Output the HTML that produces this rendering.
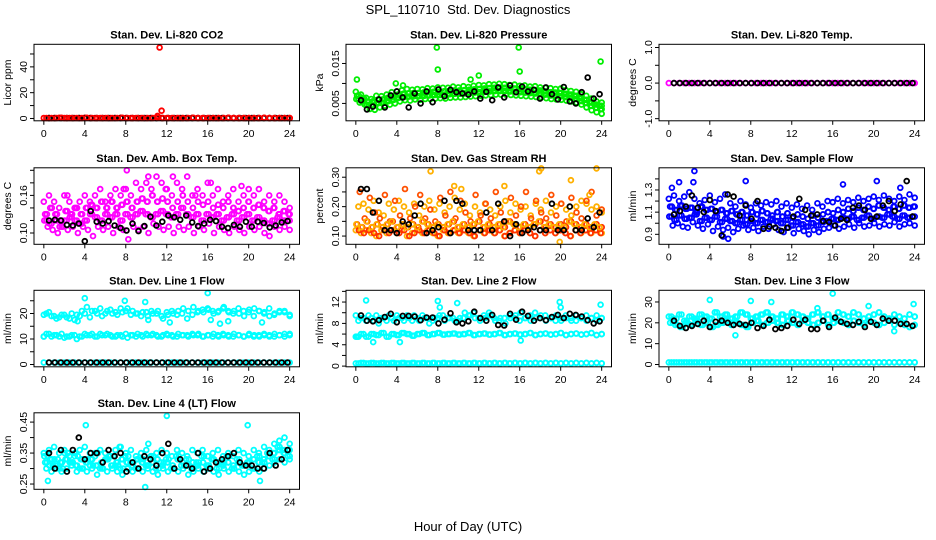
<!DOCTYPE html>
<html><head><meta charset="utf-8"><title>SPL_110710 Std. Dev. Diagnostics</title>
<style>
html,body{margin:0;padding:0;background:#fff;}
svg{display:block;font-family:"Liberation Sans",sans-serif;}
</style></head>
<body>
<svg id="chart" width="936" height="540" viewBox="0 0 936 540" xmlns="http://www.w3.org/2000/svg">
<rect width="936" height="540" fill="#fff"/>
<text x="468" y="14" text-anchor="middle" font-size="13" style="white-space:pre">SPL_110710  Std. Dev. Diagnostics</text>
<text x="468" y="531" text-anchor="middle" font-size="13">Hour of Day (UTC)</text>
</svg>
<script>
// ---------- data (hour of day on x) ----------
const xTicks = [0,4,8,12,16,20,24];
// CO2 (ppm)
const co2Red = [0.4,0.3,0.4,0.5,0.3,0.4,0.4,0.3,0.5,0.4,0.3,0.4,0.4,0.3,0.4,0.5,0.4,0.3,0.4,0.4,0.3,0.4,0.5,0.4,0.3,0.4,0.4,0.3,0.4,0.5,0.4,0.3,0.4,0.4,0.3,0.4,0.5,0.4,0.3,0.4,0.4,0.3,0.4,0.5,0.4,0.3,0.4,0.4,0.3];
const co2Black = [0.3,0.3,0.4,0.3,0.3,0.4,0.3,0.3,0.4,0.3,0.3,0.4,0.3,0.3,0.4,0.3,0.3,0.4,0.3,0.3,0.4,0.3,0.3,0.4,0.3,0.3,0.4,0.3,0.3,0.4,0.3,0.3,0.4,0.3,0.3,0.4,0.3,0.3,0.4,0.3,0.3];
const co2OutHours = [11.3,11.5,11.1];
const co2OutVals = [55,6,2];
// Pressure (x0.001 kPa)
const pressA = [7.9,7.2,6.4,6.1,6.9,6.8,7.2,7.8,8.0,8.3,8.6,8.4,8.6,8.5,8.8,8.7,9.0,8.9,8.9,9.2,9.0,9.3,9.1,9.4,9.6,9.5,9.8,9.7,9.9,9.8,9.6,9.7,9.4,9.5,9.2,9.3,9.0,8.9,8.8,8.6,8.7,8.3,8.1,7.9,7.3,6.9,6.2,5.5,5.2];
const pressB = [6.9,6.3,5.4,5.5,5.9,6.0,6.4,6.7,7.2,7.4,7.5,7.6,7.6,7.7,7.8,7.9,7.9,8.0,8.1,8.2,8.2,8.3,8.4,8.5,8.6,8.7,8.8,8.9,8.9,8.9,8.8,8.7,8.6,8.5,8.4,8.3,8.2,8.0,7.8,7.7,7.6,7.4,7.2,6.9,6.4,5.9,5.2,4.7,4.4];
const pressC = [6.1,5.6,4.6,4.5,5.1,5.2,5.6,5.9,6.4,6.6,6.7,6.8,6.8,6.9,7.0,7.1,7.1,7.2,7.3,7.4,7.4,7.5,7.6,7.7,7.8,7.9,8.0,8.1,8.1,8.1,8.0,7.9,7.8,7.7,7.6,7.5,7.4,7.2,7.0,6.9,6.8,6.6,6.4,6.1,5.6,5.1,4.4,3.9,3.6];
const pressD = [5.2,4.7,3.6,3.4,4.0,4.4,4.7,5.0,5.5,5.8,5.7,6.0,5.9,6.1,6.1,6.2,6.3,6.2,6.4,6.5,6.5,6.6,6.7,6.8,6.9,7.0,7.1,7.2,7.2,7.2,7.1,7.0,6.9,6.8,6.7,6.6,6.5,6.3,6.1,6.0,5.9,5.7,5.5,5.2,4.7,4.0,3.3,2.8,2.4];
const pressOutHours = [0.1,3.9,4.6,7.9,8.0,11.2,12.0,15.9,16.0,23.9];
const pressOutVals = [11,10,9.5,19,13.5,11,12,19,13,15.5];
const pressBlack = [5.8,3.5,4.2,6.0,4.0,7.0,8.0,6.5,4.0,7.5,5.0,8.0,5.3,8.5,6.8,8.4,7.8,7.5,7.2,8.0,6.2,7.9,5.8,9.0,6.5,9.5,7.8,9.2,8.0,8.4,6.2,9.0,7.3,6.0,9.1,5.5,5.0,7.8,11.5,6.2,7.3];
// Li-820 temp
const tempMag = [0,0,0,0,0,0,0,0,0,0,0,0,0,0,0,0,0,0,0,0,0,0,0,0,0,0,0,0,0,0,0,0,0,0,0,0,0,0,0,0,0,0,0,0,0,0,0,0,0];
const tempBlack = [0,0,0,0,0,0,0,0,0,0,0,0,0,0,0,0,0,0,0,0,0,0,0,0,0,0,0,0,0,0,0,0,0,0,0,0,0,0,0,0,0];
// Amb box temp
const ambA = [0.15,0.16,0.15,0.14,0.16,0.15,0.14,0.15,0.16,0.15,0.16,0.17,0.15,0.16,0.17,0.16,0.17,0.16,0.18,0.17,0.18,0.17,0.19,0.18,0.17,0.16,0.18,0.17,0.19,0.16,0.17,0.16,0.18,0.16,0.17,0.15,0.16,0.17,0.15,0.16,0.17,0.16,0.17,0.15,0.16,0.15,0.16,0.15,0.14];
const ambB = [0.13,0.14,0.13,0.12,0.135,0.13,0.14,0.13,0.14,0.145,0.14,0.15,0.14,0.15,0.14,0.145,0.15,0.14,0.15,0.155,0.15,0.16,0.15,0.155,0.15,0.14,0.15,0.16,0.15,0.14,0.15,0.145,0.15,0.14,0.145,0.14,0.15,0.14,0.135,0.14,0.15,0.14,0.145,0.14,0.135,0.14,0.13,0.135,0.13];
const ambC = [0.12,0.115,0.12,0.11,0.12,0.125,0.12,0.115,0.12,0.13,0.125,0.12,0.13,0.125,0.13,0.12,0.13,0.125,0.13,0.135,0.13,0.125,0.13,0.135,0.13,0.125,0.13,0.14,0.13,0.125,0.13,0.12,0.13,0.125,0.13,0.12,0.125,0.13,0.12,0.125,0.13,0.12,0.125,0.12,0.115,0.12,0.125,0.12,0.12];
const ambD = [0.11,0.105,0.10,0.11,0.105,0.11,0.10,0.11,0.105,0.095,0.11,0.105,0.11,0.10,0.11,0.105,0.09,0.11,0.105,0.11,0.10,0.115,0.11,0.105,0.11,0.10,0.11,0.105,0.11,0.10,0.11,0.105,0.115,0.10,0.11,0.105,0.10,0.11,0.105,0.10,0.11,0.105,0.11,0.10,0.095,0.11,0.105,0.11,0.105];
const ambOutHours = [8.1,10.2,12.6,16.3,19.3,14.8,7.8,11.9,2.3];
const ambOutVals = [0.20,0.19,0.19,0.18,0.175,0.16,0.17,0.17,0.16];
const ambBlack = [0.120,0.121,0.120,0.113,0.112,0.115,0.087,0.135,0.118,0.115,0.119,0.112,0.108,0.104,0.115,0.103,0.111,0.126,0.112,0.118,0.128,0.125,0.121,0.128,0.117,0.111,0.115,0.121,0.119,0.110,0.108,0.113,0.110,0.118,0.110,0.118,0.116,0.109,0.112,0.117,0.119];
// Gas stream RH
const rhA = [0.12,0.11,0.12,0.11,0.10,0.12,0.11,0.12,0.11,0.12,0.10,0.11,0.12,0.11,0.12,0.11,0.10,0.12,0.11,0.12,0.11,0.12,0.11,0.10,0.12,0.11,0.12,0.11,0.12,0.10,0.11,0.12,0.11,0.12,0.11,0.10,0.12,0.11,0.12,0.11,0.12,0.11,0.10,0.12,0.11,0.12,0.11,0.12,0.11];
const rhB = [0.14,0.13,0.15,0.13,0.14,0.13,0.14,0.15,0.13,0.14,0.13,0.14,0.13,0.15,0.14,0.13,0.14,0.13,0.14,0.15,0.13,0.14,0.13,0.14,0.15,0.13,0.14,0.13,0.14,0.13,0.15,0.14,0.13,0.14,0.13,0.14,0.15,0.13,0.14,0.13,0.14,0.13,0.15,0.14,0.13,0.14,0.13,0.14,0.13];
const rhC = [0.20,0.21,0.19,0.22,0.18,0.17,0.21,0.19,0.22,0.20,0.18,0.21,0.17,0.20,0.22,0.19,0.21,0.18,0.20,0.23,0.19,0.21,0.17,0.20,0.18,0.21,0.19,0.17,0.20,0.22,0.18,0.21,0.19,0.20,0.17,0.21,0.19,0.22,0.18,0.20,0.21,0.19,0.17,0.20,0.22,0.21,0.19,0.20,0.18];
const rhD = [0.25,0.16,0.23,0.18,0.16,0.24,0.15,0.22,0.17,0.26,0.16,0.20,0.24,0.16,0.19,0.15,0.23,0.17,0.25,0.16,0.22,0.18,0.15,0.24,0.17,0.21,0.16,0.25,0.18,0.15,0.23,0.17,0.20,0.25,0.16,0.22,0.18,0.16,0.24,0.17,0.21,0.15,0.23,0.18,0.16,0.22,0.25,0.17,0.19];
const rhOutHours = [7.3,9.6,14.5,17.9,18.1,21.0,23.5,10.3,22.8,19.9];
const rhOutVals = [0.32,0.27,0.27,0.32,0.33,0.29,0.33,0.26,0.24,0.08];
const rhBlack = [0.26,0.26,0.18,0.22,0.12,0.12,0.11,0.15,0.14,0.17,0.21,0.11,0.12,0.13,0.22,0.11,0.22,0.21,0.12,0.12,0.12,0.18,0.12,0.21,0.15,0.10,0.14,0.11,0.12,0.13,0.12,0.12,0.21,0.12,0.12,0.20,0.12,0.12,0.16,0.13,0.18];
// Sample flow
const sfA = [1.22,1.25,1.20,1.24,1.28,1.22,1.18,1.21,1.25,1.19,1.22,1.26,1.18,1.15,1.20,1.17,1.14,1.18,1.16,1.19,1.17,1.20,1.15,1.18,1.14,1.17,1.13,1.16,1.12,1.18,1.15,1.20,1.19,1.22,1.18,1.21,1.19,1.23,1.20,1.22,1.24,1.21,1.25,1.22,1.20,1.24,1.21,1.26,1.23];
const sfB = [1.15,1.12,1.16,1.13,1.14,1.10,1.15,1.12,1.13,1.10,1.12,1.09,1.11,1.08,1.10,1.07,1.10,1.08,1.11,1.09,1.07,1.10,1.06,1.09,1.05,1.08,1.06,1.04,1.07,1.05,1.08,1.10,1.09,1.12,1.10,1.13,1.11,1.14,1.12,1.15,1.13,1.16,1.14,1.12,1.15,1.13,1.16,1.14,1.15];
const sfC = [1.06,1.03,1.07,1.04,1.05,1.08,1.02,1.05,1.03,1.06,1.01,1.04,1.02,1.00,1.03,0.99,1.02,1.00,1.03,1.01,1.04,1.02,1.00,1.03,0.98,1.01,0.99,0.97,1.00,0.98,1.01,1.02,1.04,1.03,1.05,1.04,1.06,1.03,1.05,1.07,1.04,1.06,1.05,1.08,1.06,1.04,1.07,1.05,1.06];
const sfD = [0.98,1.00,0.97,0.96,1.01,0.98,0.95,0.99,0.93,0.97,0.94,0.96,0.92,0.95,0.98,0.94,0.96,0.93,0.97,0.95,0.99,0.94,0.92,0.96,0.91,0.95,0.93,0.90,0.94,0.92,0.95,0.96,0.98,0.95,0.97,0.99,0.96,1.00,0.97,0.98,1.00,0.97,0.99,0.98,1.01,0.97,0.99,1.00,0.98];
const sfOutHours = [2.5,2.4,1.0,7.5,17.0,20.3,22.6,5.3,5.8,0.3];
const sfOutVals = [1.47,1.37,1.37,1.38,1.35,1.38,1.32,0.88,0.86,1.32];
const sfBlack = [1.08,1.11,1.15,1.25,1.14,1.10,1.21,1.11,0.89,1.26,1.24,1.07,1.16,1.04,1.20,0.95,0.97,0.96,0.93,0.96,1.06,1.22,1.12,1.07,1.08,1.02,1.01,0.98,1.04,1.03,1.14,1.16,1.12,1.04,1.06,1.16,1.20,1.11,1.17,1.38,1.06];
// Line 1 flow
const l1A = [19.5,20.5,19,18.5,19.5,18,17.5,19,20,18.5,21,22,20,21.5,20.5,22,21,19.5,20,19,20.5,21,20,19,20.5,21,19.5,20,18,19.5,20.5,21.5,22,21,20.5,22,21,20,22,21,20.5,19,21,20,22,19.5,20.5,21,19.5];
const l1B = [20,19,18,19.5,18.5,20,19.5,21,22.5,21,20,19,21,20,19.5,20.5,22,21,20,20.5,19,20,21,18,19.5,20,21,22,21,22.5,21,20.5,21.5,20,21,22.5,20.5,21,20,19,21.5,22,21,20.5,19,20,21,20.5,19];
const l1C = [11,12,11.5,11,10.5,11,11.5,11,12,11.5,11,12,11.5,11.5,11,11.5,12,11.5,11,11.5,12,11.5,11.5,11,12,11.5,11,11.5,11.5,12,11.5,11,11.5,11,11.5,12,11.5,11,11.5,11,11.5,11,11.5,12,11.5,11,11.5,12,11.5];
const l1D = [12,11,11.5,12,11,11.5,10,11,11.5,12,11,11.5,12,11,11.5,11,10.5,11.5,12,11,11.5,12,11,11.5,11.5,11,12,11.5,11,11.5,12,11,11.5,12,11,11.5,11,12,11.5,11,12,11.5,11,11.5,11,12,11.5,11,12];
const l1E = [0.8,0.8,0.8,0.8,0.8,0.8,0.8,0.8,0.8,0.8,0.8,0.8,0.8,0.8,0.8,0.8,0.8,0.8,0.8,0.8,0.8,0.8,0.8,0.8,0.8,0.8,0.8,0.8,0.8,0.8,0.8,0.8,0.8,0.8,0.8,0.8,0.8,0.8,0.8,0.8,0.8,0.8,0.8,0.8,0.8,0.8,0.8,0.8,0.8];
const l1OutHours = [4.0,7.9,9.9,16.0,12.3,16.3,18.0,10.2,3.3,17.2,21.3,0.0];
const l1OutVals = [26,25,24.5,28,16.5,17.5,17,17.5,17,16,16.5,11];
const l1Black = [0.8,0.8,0.8,0.8,0.8,0.8,0.8,0.8,0.8,0.8,0.8,0.8,0.8,0.8,0.8,0.8,0.8,0.8,0.8,0.8,0.8,0.8,0.8,0.8,0.8,0.8,0.8,0.8,0.8,0.8,0.8,0.8,0.8,0.8,0.8,0.8,0.8,0.8,0.8,0.8,0.8];
// Line 2 flow
const l2A = [9.5,9,8.5,9,9.5,9,8.5,9,9.5,9,9.5,8.5,9,9.5,9,8.5,9,9.5,9,9,8.5,9,9.5,10,9,9.5,10,9,8.5,9,9.5,9,8.5,9,9.5,10,9,9.5,9,8.5,9,9.5,9,8.5,9,9.5,9,8.5,9];
const l2B = [8.5,9,9.5,8.5,8,9,9.5,8.5,9,8.5,9,9.5,8.5,9,8,9,9.5,8.5,9,8.5,9,10,9.5,9,8.5,9,9.5,8.5,9,8,9,9.5,10,9,8.5,9,9.5,8.5,9,9.5,8.5,9,8.5,9.5,9,8.5,9,9.5,9];
const l2C = [5.5,6,5.5,6,5.8,6.2,5.5,6,5.8,6.2,6,5.7,6,6.2,5.8,6,6.2,5.9,6,6.1,5.9,6,6.2,5.8,6,6.1,5.9,6,6.2,5.8,6,6.1,5.9,6,6.2,5.8,6,6.1,5.9,6,6.2,5.8,6,6.1,5.9,6,6.2,5.8,6];
const l2D = [0.5,0.6,0.5,0.6,0.5,0.6,0.5,0.6,0.5,0.6,0.5,0.6,0.5,0.6,0.5,0.6,0.5,0.6,0.5,0.6,0.5,0.6,0.5,0.6,0.5,0.6,0.5,0.6,0.5,0.6,0.5,0.6,0.5,0.6,0.5,0.6,0.5,0.6,0.5,0.6,0.5,0.6,0.5,0.6,0.5,0.6,0.5,0.6,0.5];
const l2OutHours = [1.0,8.0,9.9,19.9,23.9,8.2,20.0,1.7,4.3,16.1,0.1];
const l2OutVals = [12.3,12.2,11.8,12,11.5,11,11,4.5,4.5,4.8,5.5];
const l2Black = [9.5,8.5,8.4,8.6,9.2,9.8,8.2,9.4,9.4,9.3,8.6,9.1,9.1,8.0,8.7,9.9,8.2,8.0,8.4,10.2,9.0,8.5,9.6,7.7,7.6,9.8,8.7,10.2,9.4,8.5,9.0,8.6,9.2,9.6,9.0,9.8,9.6,9.3,8.6,8.0,8.4];
// Line 3 flow
const l3A = [23,22,24,21,23,22,24,23,22,25,23,24,22,23,25,24,22,23,24,25,23,22,24,23,25,24,23,22,24,25,23,24,22,25,24,23,25,24,22,23,24,25,23,22,24,23,22,24,23];
const l3B = [20,19,18,20,19,21,19,20,18,19,20,21,19,20,19,18,20,21,19,20,21,20,19,21,20,19,21,20,19,20,21,19,20,21,20,19,21,20,19,21,20,19,20,21,19,20,19,18,19];
const l3C = [1,1,1,1,1,1,1,1,1,1,1,1,1,1,1,1,1,1,1,1,1,1,1,1,1,1,1,1,1,1,1,1,1,1,1,1,1,1,1,1,1,1,1,1,1,1,1,1,1];
const l3OutHours = [4.0,8.0,10.0,16.0,19.5,4.5,6.5,22.0,14.5,23.9];
const l3OutVals = [31,30.5,30,34,28,25,14,16,27,29];
const l3Black = [21,18.5,17.5,18.5,19.5,21,18,20.5,21,20,19,19.5,19,20,17.5,18.5,21.5,17,17.5,18.5,21.5,19.5,21.5,17,17,21,18,22.5,20.5,19.5,19,20.5,18,20.5,19,22,21,21,19.5,19.5,18.5];
// Line 4 (LT) flow
const l4A = [0.35,0.36,0.37,0.35,0.36,0.34,0.35,0.36,0.37,0.35,0.34,0.36,0.35,0.34,0.36,0.37,0.35,0.36,0.34,0.35,0.36,0.34,0.35,0.36,0.35,0.34,0.36,0.35,0.34,0.36,0.35,0.36,0.34,0.35,0.36,0.34,0.35,0.34,0.36,0.35,0.34,0.36,0.35,0.37,0.36,0.38,0.39,0.40,0.38];
const l4B = [0.32,0.33,0.31,0.32,0.33,0.32,0.31,0.33,0.32,0.33,0.31,0.32,0.33,0.31,0.32,0.33,0.32,0.31,0.33,0.32,0.31,0.32,0.33,0.31,0.32,0.31,0.33,0.32,0.31,0.32,0.31,0.32,0.31,0.33,0.32,0.31,0.32,0.31,0.32,0.31,0.32,0.33,0.32,0.33,0.34,0.35,0.36,0.35,0.36];
const l4C = [0.30,0.29,0.30,0.29,0.30,0.31,0.29,0.30,0.29,0.30,0.28,0.30,0.29,0.30,0.29,0.28,0.30,0.29,0.30,0.29,0.30,0.29,0.28,0.30,0.29,0.30,0.29,0.30,0.28,0.29,0.30,0.29,0.30,0.29,0.28,0.30,0.29,0.30,0.29,0.28,0.29,0.30,0.29,0.30,0.31,0.32,0.33,0.32,0.33];
const l4D = [0.34,0.31,0.33,0.30,0.35,0.32,0.34,0.30,0.33,0.31,0.35,0.30,0.33,0.34,0.31,0.30,0.34,0.32,0.30,0.33,0.31,0.34,0.30,0.32,0.33,0.30,0.34,0.31,0.33,0.30,0.32,0.34,0.31,0.33,0.30,0.32,0.34,0.30,0.33,0.31,0.32,0.30,0.34,0.32,0.35,0.33,0.37,0.36,0.34];
const l4OutHours = [0.4,4.1,9.9,12.0,19.9,10.2,7.4,21.1];
const l4OutVals = [0.26,0.44,0.24,0.47,0.44,0.38,0.37,0.26];
const l4Black = [0.35,0.30,0.36,0.29,0.36,0.40,0.33,0.35,0.35,0.32,0.36,0.34,0.35,0.29,0.32,0.30,0.34,0.33,0.31,0.35,0.38,0.30,0.33,0.31,0.30,0.35,0.29,0.30,0.32,0.33,0.34,0.35,0.32,0.31,0.31,0.30,0.30,0.35,0.31,0.33,0.36];

// ---------- layout ----------
const colLeft = [34, 346, 659];
const rowTop = [44.3, 167.8, 290.3, 412.8];
const boxW = 265.5, boxH = 76.5;
const NS = 'http://www.w3.org/2000/svg';
const svg = document.getElementById('chart');

function mk(tag, attrs, parent) {
  const e = document.createElementNS(NS, tag);
  for (const k in attrs) e.setAttribute(k, attrs[k]);
  (parent || svg).appendChild(e);
  return e;
}

const panels = [
  {id:'co2', title:'Stan. Dev. Li-820 CO2', ylab:'Licor ppm', c:0, r:0, ylim:[-1.8,57.5], ticks:[0,10,20,30,40,50], labels:{0:'0',20:'20',40:'40'},
   series:[{v:co2Red,col:'#ff0000',s:0,e:24},{v:co2Black,col:'#000',s:0.5,e:23.8},{v:co2Red,col:'#ff0000',s:0.25,e:24},{h:co2OutHours,v:co2OutVals,col:'#ff0000'}]},
  {id:'pressure', title:'Stan. Dev. Li-820 Pressure', ylab:'kPa', c:1, r:0, ylim:[0.65,19.8], ticks:[5,10,15], labels:{5:'0.005',15:'0.015'},
   series:[{v:pressA,col:'#00ee00',s:0,e:24},{v:pressB,col:'#00ee00',s:0.125,e:24},{v:pressC,col:'#00ee00',s:0.25,e:24},{v:pressD,col:'#00ee00',s:0.375,e:24},{v:pressB,col:'#00ee00',s:0.3,e:23.8},{v:pressC,col:'#00ee00',s:0.05,e:23.9},{h:pressOutHours,v:pressOutVals,col:'#00ee00'},{v:pressBlack,col:'#000',s:0.5,e:23.8}]},
  {id:'li820-temp', title:'Stan. Dev. Li-820 Temp.', ylab:'degrees C', c:2, r:0, ylim:[-1.06,1.09], ticks:[-1,-0.5,0,0.5,1], labels:{'-1':'-1.0','0':'0.0','1':'1.0'},
   series:[{v:tempMag,col:'#ff00ff',s:0,e:24},{v:tempBlack,col:'#000',s:0.5,e:23.8}]},
  {id:'amb-box-temp', title:'Stan. Dev. Amb. Box Temp.', ylab:'degrees C', c:0, r:1, ylim:[0.082,0.204], ticks:[0.10,0.12,0.14,0.16,0.18,0.20], labels:{'0.1':'0.10','0.16':'0.16'},
   series:[{v:ambA,col:'#ff00ff',s:0,e:24},{v:ambB,col:'#ff00ff',s:0.125,e:24},{v:ambC,col:'#ff00ff',s:0.25,e:24},{v:ambD,col:'#ff00ff',s:0.375,e:24},{v:ambB,col:'#ff00ff',s:0.3,e:23.9},{v:ambC,col:'#ff00ff',s:0.05,e:23.8},{h:ambOutHours,v:ambOutVals,col:'#ff00ff'},{v:ambBlack,col:'#000',s:0.5,e:23.8}]},
  {id:'gas-stream-rh', title:'Stan. Dev. Gas Stream RH', ylab:'percent', c:1, r:1, ylim:[0.072,0.332], ticks:[0.10,0.15,0.20,0.25,0.30], labels:{'0.1':'0.10','0.2':'0.20','0.3':'0.30'},
   series:[{v:rhA,col:'#ffb000',s:0,e:24},{v:rhB,col:'#ff3000',s:0.125,e:24},{v:rhC,col:'#ffb000',s:0.25,e:24},{v:rhD,col:'#ff5000',s:0.375,e:24},{v:rhA,col:'#ff3000',s:0.3,e:23.9},{v:rhB,col:'#ffb000',s:0.05,e:23.8},{h:rhOutHours,v:rhOutVals,col:'#ffb000'},{v:rhBlack,col:'#000',s:0.5,e:23.8}]},
  {id:'sample-flow', title:'Stan. Dev. Sample Flow', ylab:'ml/min', c:2, r:1, ylim:[0.81,1.50], ticks:[0.9,1.0,1.1,1.2,1.3,1.4], labels:{'0.9':'0.9','1.1':'1.1','1.3':'1.3'},
   series:[{v:sfA,col:'#0000ff',s:0,e:24},{v:sfB,col:'#0000ff',s:0.125,e:24},{v:sfC,col:'#0000ff',s:0.25,e:24},{v:sfD,col:'#0000ff',s:0.375,e:24},{v:sfB,col:'#0000ff',s:0.3,e:23.9},{v:sfC,col:'#0000ff',s:0.05,e:23.8},{h:sfOutHours,v:sfOutVals,col:'#0000ff'},{v:sfBlack,col:'#000',s:0.5,e:23.8}]},
  {id:'line1-flow', title:'Stan. Dev. Line 1 Flow', ylab:'ml/min', c:0, r:2, ylim:[-0.9,29.1], ticks:[0,5,10,15,20,25], labels:{0:'0',10:'10',20:'20'},
   series:[{v:l1A,col:'#00ffff',s:0,e:24},{v:l1B,col:'#00ffff',s:0.25,e:24},{v:l1C,col:'#00ffff',s:0,e:24},{v:l1D,col:'#00ffff',s:0.25,e:24},{v:l1E,col:'#00ffff',s:0,e:24},{h:l1OutHours,v:l1OutVals,col:'#00ffff'},{v:l1Black,col:'#000',s:0.5,e:23.8}]},
  {id:'line2-flow', title:'Stan. Dev. Line 2 Flow', ylab:'ml/min', c:1, r:2, ylim:[-0.13,14.2], ticks:[0,2,4,6,8,10,12,14], labels:{0:'0',4:'4',8:'8',12:'12'},
   series:[{v:l2A,col:'#00ffff',s:0,e:24},{v:l2B,col:'#00ffff',s:0.25,e:24},{v:l2C,col:'#00ffff',s:0,e:24},{v:l2C,col:'#00ffff',s:0.25,e:24},{v:l2D,col:'#00ffff',s:0,e:24},{v:l2D,col:'#00ffff',s:0.25,e:24},{h:l2OutHours,v:l2OutVals,col:'#00ffff'},{v:l2Black,col:'#000',s:0.5,e:23.8}]},
  {id:'line3-flow', title:'Stan. Dev. Line 3 Flow', ylab:'ml/min', c:2, r:2, ylim:[-1.1,35.6], ticks:[0,10,20,30], labels:{0:'0',10:'10',20:'20',30:'30'},
   series:[{v:l3A,col:'#00ffff',s:0,e:24},{v:l3B,col:'#00ffff',s:0.125,e:24},{v:l3A,col:'#00ffff',s:0.25,e:24},{v:l3B,col:'#00ffff',s:0.375,e:24},{v:l3C,col:'#00ffff',s:0,e:24},{v:l3C,col:'#00ffff',s:0.25,e:24},{h:l3OutHours,v:l3OutVals,col:'#00ffff'},{v:l3Black,col:'#000',s:0.5,e:23.8}]},
  {id:'line4-flow', title:'Stan. Dev. Line 4 (LT) Flow', ylab:'ml/min', c:0, r:3, ylim:[0.233,0.480], ticks:[0.25,0.30,0.35,0.40,0.45], labels:{'0.25':'0.25','0.35':'0.35','0.45':'0.45'},
   series:[{v:l4A,col:'#00ffff',s:0,e:24},{v:l4B,col:'#00ffff',s:0.125,e:24},{v:l4C,col:'#00ffff',s:0.25,e:24},{v:l4D,col:'#00ffff',s:0.375,e:24},{v:l4B,col:'#00ffff',s:0.3,e:23.9},{v:l4D,col:'#00ffff',s:0.05,e:23.8},{h:l4OutHours,v:l4OutVals,col:'#00ffff'},{v:l4Black,col:'#000',s:0.5,e:23.8}]}
];

panels.forEach(p => {
  const x0 = colLeft[p.c], y0 = rowTop[p.r];
  const g = mk('g', {});
  
  
  const xScale = h => x0 + (h + 0.96) / 25.92 * boxW;
  const yScale = v => y0 + boxH - (v - p.ylim[0]) / (p.ylim[1] - p.ylim[0]) * boxH;
  const t = mk('text', {x: x0 + boxW / 2, y: y0 - 6, 'text-anchor': 'middle', 'font-size': 11, 'font-weight': 'bold'}, g);
  t.textContent = p.title;
  
  
  const yl = mk('text', {x: 0, y: 0, 'text-anchor': 'middle', 'font-size': 10.5, transform: `translate(${x0 - 23},${y0 + boxH / 2}) rotate(-90)`}, g);
  yl.textContent = p.ylab;
  
  
  const pg = mk('g', {fill: 'none', 'stroke-width': 1.8}, g);
  
  
  p.series.forEach(s => {
    const n = s.v.length;
    s.v.forEach((val, i) => {
      const hr = s.h ? s.h[i] : s.s + i * (s.e - s.s) / (n - 1);
      const c = mk('circle', {cx: xScale(hr).toFixed(1), cy: yScale(val).toFixed(1), r: 2.4, stroke: s.col}, pg);
      
      
    });
  });
  const b = mk('rect', {x: x0, y: y0, width: boxW, height: boxH, fill: 'none', stroke: '#000', 'stroke-width': 1}, g);
  
  
  xTicks.forEach(h => {
    const x = xScale(h);
    mk('line', {x1: x, x2: x, y1: y0 + boxH, y2: y0 + boxH + 4, stroke: '#000'}, g);
    const tl = mk('text', {x: x, y: y0 + boxH + 16, 'text-anchor': 'middle', 'font-size': 10.5}, g);
    tl.textContent = String(h);
    
    
  });
  p.ticks.forEach(v => {
    const y = yScale(v);
    mk('line', {x1: x0 - 4, x2: x0, y1: y, y2: y, stroke: '#000'}, g);
    const key = String(v);
    if (p.labels[key] !== undefined) {
      const tl = mk('text', {x: 0, y: 0, 'text-anchor': 'middle', 'font-size': 10.5, transform: `translate(${x0 - 7},${y}) rotate(-90)`}, g);
      tl.textContent = p.labels[key];
      
      
    }
  });
});
</script>
</body></html>
